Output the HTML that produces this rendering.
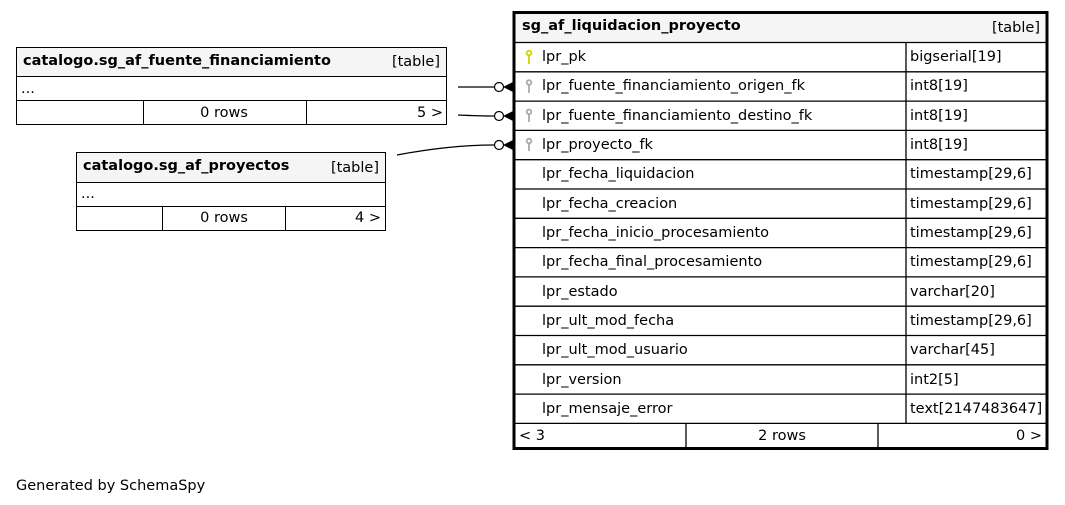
<!DOCTYPE html>
<html><head><meta charset="utf-8"><style>
html,body{margin:0;padding:0;background:#fff;width:1065px;height:505px;overflow:hidden}
svg text{font-family:"DejaVu Sans","Liberation Sans",sans-serif;font-size:14.5px;fill:#000}
.b{font-weight:bold}
</style></head><body>
<svg width="1065" height="505" viewBox="0 0 1065 505" xmlns="http://www.w3.org/2000/svg">
<rect x="16.5" y="47.5" width="430" height="29" fill="#f5f5f5" stroke="#000"/>
<rect x="16.5" y="76.5" width="430" height="24" fill="#fff" stroke="#000"/>
<rect x="16.5" y="100.5" width="430" height="24" fill="#fff" stroke="#000"/>
<line x1="143.5" y1="100.5" x2="143.5" y2="124.5" stroke="#000"/>
<line x1="306.5" y1="100.5" x2="306.5" y2="124.5" stroke="#000"/>
<text x="23" y="65" class="b">catalogo.sg_af_fuente_financiamiento</text>
<text x="440" y="66" text-anchor="end">[table]</text>
<text x="21" y="93">...</text>
<text x="224" y="117" text-anchor="middle">0 rows</text>
<text x="443" y="117" text-anchor="end">5 &gt;</text>
<rect x="76.5" y="152.5" width="309" height="30" fill="#f5f5f5" stroke="#000"/>
<rect x="76.5" y="182.5" width="309" height="24" fill="#fff" stroke="#000"/>
<rect x="76.5" y="206.5" width="309" height="24" fill="#fff" stroke="#000"/>
<line x1="162.5" y1="206.5" x2="162.5" y2="230.5" stroke="#000"/>
<line x1="285.5" y1="206.5" x2="285.5" y2="230.5" stroke="#000"/>
<text x="83" y="170" class="b">catalogo.sg_af_proyectos</text>
<text x="379" y="172" text-anchor="end">[table]</text>
<text x="81" y="198">...</text>
<text x="224" y="222" text-anchor="middle">0 rows</text>
<text x="381" y="222" text-anchor="end">4 &gt;</text>
<g stroke="#000" fill="none" stroke-width="1.2">
<path d="M458 87 L494 87"/>
<path d="M458 115 Q480 116 494 116"/>
<path d="M397 155 Q450 145 494 145"/>
</g>
<g stroke="#000" fill="#fff" stroke-width="1.2">
<circle cx="499" cy="87" r="4.5"/><circle cx="499" cy="116" r="4.5"/><circle cx="499" cy="145" r="4.5"/>
</g>
<g fill="#000">
<path d="M503 87 L513 82 L513 92 Z"/><path d="M503 116 L513 111 L513 121 Z"/><path d="M503 145 L513 140 L513 150 Z"/>
</g>
<rect x="514" y="12.5" width="533" height="436" fill="#fff" stroke="#000" stroke-width="3"/>
<rect x="515.5" y="14" width="530" height="28.5" fill="#f5f5f5"/>
<text x="522" y="30" class="b">sg_af_liquidacion_proyecto</text>
<text x="1040" y="32" text-anchor="end">[table]</text>
<g stroke="#000" stroke-width="1.3">
<line x1="515" y1="42.5" x2="1046" y2="42.5"/>
<line x1="515" y1="71.8" x2="1046" y2="71.8"/>
<line x1="515" y1="101.1" x2="1046" y2="101.1"/>
<line x1="515" y1="130.4" x2="1046" y2="130.4"/>
<line x1="515" y1="159.7" x2="1046" y2="159.7"/>
<line x1="515" y1="189" x2="1046" y2="189"/>
<line x1="515" y1="218.3" x2="1046" y2="218.3"/>
<line x1="515" y1="247.6" x2="1046" y2="247.6"/>
<line x1="515" y1="276.9" x2="1046" y2="276.9"/>
<line x1="515" y1="306.2" x2="1046" y2="306.2"/>
<line x1="515" y1="335.5" x2="1046" y2="335.5"/>
<line x1="515" y1="364.8" x2="1046" y2="364.8"/>
<line x1="515" y1="394.1" x2="1046" y2="394.1"/>
<line x1="515" y1="423.4" x2="1046" y2="423.4"/>
<line x1="906" y1="42.5" x2="906" y2="423.4"/>
<line x1="686" y1="423.4" x2="686" y2="447"/>
<line x1="878" y1="423.4" x2="878" y2="447"/>
</g>
<g stroke-width="1.8" fill="none">
<g stroke="#d4d400"><circle cx="529" cy="53" r="2.3"/><line x1="529" y1="55" x2="529" y2="64"/></g>
<g stroke="#aaa"><circle cx="529" cy="82.5" r="2.3"/><line x1="529" y1="84.5" x2="529" y2="93"/>
<circle cx="529" cy="111.8" r="2.3"/><line x1="529" y1="113.8" x2="529" y2="122"/>
<circle cx="529" cy="141" r="2.3"/><line x1="529" y1="143" x2="529" y2="151"/></g>
</g>
<text x="542" y="61">lpr_pk</text><text x="910" y="61">bigserial[19]</text>
<text x="542" y="90">lpr_fuente_financiamiento_origen_fk</text><text x="910" y="90">int8[19]</text>
<text x="542" y="120">lpr_fuente_financiamiento_destino_fk</text><text x="910" y="120">int8[19]</text>
<text x="542" y="149">lpr_proyecto_fk</text><text x="910" y="149">int8[19]</text>
<text x="542" y="178">lpr_fecha_liquidacion</text><text x="910" y="178">timestamp[29,6]</text>
<text x="542" y="208">lpr_fecha_creacion</text><text x="910" y="208">timestamp[29,6]</text>
<text x="542" y="237">lpr_fecha_inicio_procesamiento</text><text x="910" y="237">timestamp[29,6]</text>
<text x="542" y="266">lpr_fecha_final_procesamiento</text><text x="910" y="266">timestamp[29,6]</text>
<text x="542" y="296">lpr_estado</text><text x="910" y="296">varchar[20]</text>
<text x="542" y="325">lpr_ult_mod_fecha</text><text x="910" y="325">timestamp[29,6]</text>
<text x="542" y="354">lpr_ult_mod_usuario</text><text x="910" y="354">varchar[45]</text>
<text x="542" y="384">lpr_version</text><text x="910" y="384">int2[5]</text>
<text x="542" y="413">lpr_mensaje_error</text><text x="910" y="413">text[2147483647]</text>
<text x="519" y="440">&lt; 3</text>
<text x="782" y="440" text-anchor="middle">2 rows</text>
<text x="1042" y="440" text-anchor="end">0 &gt;</text>
<text x="16" y="490">Generated by SchemaSpy</text>
</svg>
</body></html>
